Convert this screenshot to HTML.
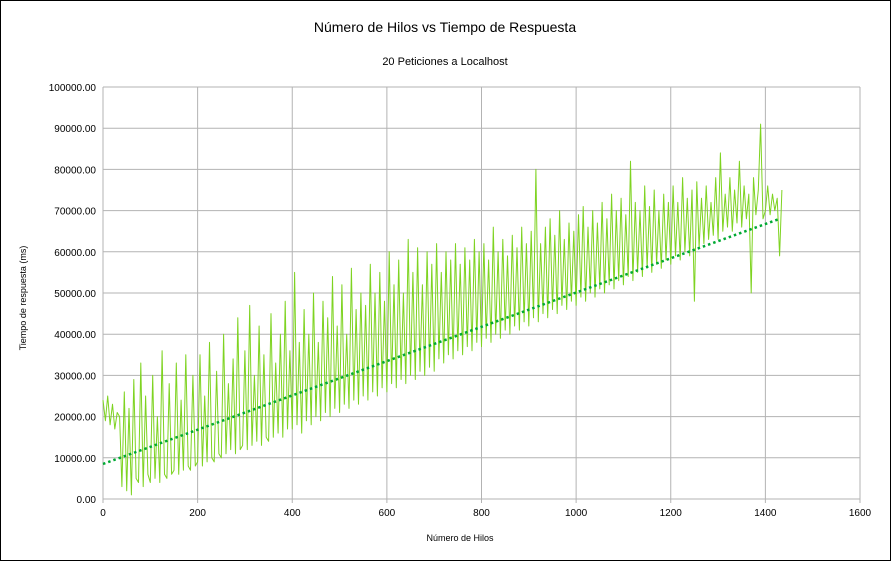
<!DOCTYPE html>
<html><head><meta charset="utf-8"><style>
body{margin:0;background:#fff;font-family:"Liberation Sans",sans-serif}
svg{display:block}
</style></head><body>
<svg id="chart" width="891" height="561" font-family="Liberation Sans, sans-serif">
<rect x="0.5" y="0.5" width="890" height="560" fill="#fff" stroke="#000"/>
<text x="445" y="32" text-anchor="middle" font-size="14">Número de Hilos vs Tiempo de Respuesta</text>
<text x="445" y="65" text-anchor="middle" font-size="11">20 Peticiones a Localhost</text>
<text x="460" y="541" text-anchor="middle" font-size="9">Número de Hilos</text>
<text transform="translate(26,298) rotate(-90)" text-anchor="middle" font-size="9">Tiempo de respuesta (ms)</text>
<g id="grid"></g><g id="series"></g><g id="trend"></g><g id="axes"></g>
</svg>
<script>
const hilos=[0,5,10,15,20,25,30,35,40,45,50,55,60,65,70,75,80,85,90,95,100,105,110,115,120,125,130,135,140,145,150,155,160,165,170,175,180,185,190,195,200,205,210,215,220,225,230,235,240,245,250,255,260,265,270,275,280,285,290,295,300,305,310,315,320,325,330,335,340,345,350,355,360,365,370,375,380,385,390,395,400,405,410,415,420,425,430,435,440,445,450,455,460,465,470,475,480,485,490,495,500,505,510,515,520,525,530,535,540,545,550,555,560,565,570,575,580,585,590,595,600,605,610,615,620,625,630,635,640,645,650,655,660,665,670,675,680,685,690,695,700,705,710,715,720,725,730,735,740,745,750,755,760,765,770,775,780,785,790,795,800,805,810,815,820,825,830,835,840,845,850,855,860,865,870,875,880,885,890,895,900,905,910,915,920,925,930,935,940,945,950,955,960,965,970,975,980,985,990,995,1000,1005,1010,1015,1020,1025,1030,1035,1040,1045,1050,1055,1060,1065,1070,1075,1080,1085,1090,1095,1100,1105,1110,1115,1120,1125,1130,1135,1140,1145,1150,1155,1160,1165,1170,1175,1180,1185,1190,1195,1200,1205,1210,1215,1220,1225,1230,1235,1240,1245,1250,1255,1260,1265,1270,1275,1280,1285,1290,1295,1300,1305,1310,1315,1320,1325,1330,1335,1340,1345,1350,1355,1360,1365,1370,1375,1380,1385,1390,1395,1400,1405,1410,1415,1420,1425,1430,1435];
const tiemposMiles=[24,19,25,18,23,17,21,20,3,26,
2,22,1,29,5,4,33,3,25,6,
4,30,5,20,4,36,6,5,28,6,
7,33,6,24,7,35,8,7,30,8,
9,35,8,25,9,38,10,9,31,11,
10,40,11,28,12,34,11,44,12,13,
36,12,47,13,30,14,42,13,35,15,
14,45,15,33,16,40,15,48,17,36,
17,55,18,38,16,46,19,40,18,50,
20,38,19,48,21,44,20,54,22,42,
21,52,23,40,22,56,24,46,23,50,
25,47,24,57,26,50,25,55,27,48,
26,60,28,52,27,58,29,50,28,63,
30,55,29,61,31,52,30,60,32,57,
31,62,34,55,33,60,35,58,34,62,
36,57,35,61,37,58,36,63,38,60,
37,62,39,58,38,66,40,60,39,63,
41,59,40,64,42,61,41,66,43,62,
42,65,44,80,43,62,45,66,44,68,
46,64,45,70,47,63,46,67,48,65,
47,69,49,71,48,66,50,70,49,67,
51,72,50,68,52,74,51,70,53,73,
52,69,54,82,53,72,55,70,54,76,
56,71,55,75,57,70,56,74,58,72,
57,76,59,72,58,78,60,73,59,75,
48,77,61,73,62,76,63,72,64,78,
63,84,65,74,66,78,65,75,67,82,
66,76,68,74,50,78,69,75,91,68,
70,76,69,74,70,73,59,75];
const trendX=[0,1430];
const trendY=[8500,68000];
const xTicks=[0,200,400,600,800,1000,1200,1400,1600];
const yTicks=[0,10000,20000,30000,40000,50000,60000,70000,80000,90000,100000];
const X0=103,X1=860,Y0=499,Y1=87;
const sx=v=>X0+(v/1600)*(X1-X0);
const sy=v=>Y0-(v/100000)*(Y0-Y1);
const NS="http://www.w3.org/2000/svg";
function mk(t,a,p){const e=document.createElementNS(NS,t);for(const k in a)e.setAttribute(k,a[k]);p.appendChild(e);return e;}
const grid=document.getElementById('grid'),axes=document.getElementById('axes');
yTicks.forEach(v=>{
 const l=mk('line',{x1:X0,x2:X1,y1:sy(v),y2:sy(v),stroke:'#b3b3b3','stroke-width':1},grid);
 
 
 const t=mk('text',{x:96,y:sy(v)+4,'text-anchor':'end','font-size':10},axes);
 t.textContent=v.toFixed(2);
 
 
});
xTicks.forEach(v=>{
 const l=mk('line',{x1:sx(v),x2:sx(v),y1:Y1,y2:Y0+4,stroke:'#b3b3b3','stroke-width':1},grid);
 
 
 const t=mk('text',{x:sx(v),y:516,'text-anchor':'middle','font-size':10},axes);
 t.textContent=v;
 
 
});
const pts=hilos.map((h,i)=>sx(h).toFixed(1)+','+sy(tiemposMiles[i]*1000).toFixed(1)).join(' ');
const pl=mk('polyline',{points:pts,fill:'none',stroke:'#7ed321','stroke-width':1,'stroke-linejoin':'round'},document.getElementById('series'));


const tl=mk('line',{x1:sx(trendX[0]),y1:sy(trendY[0]),x2:sx(trendX[1]),y2:sy(trendY[1]),stroke:'#00a933','stroke-width':2.5,'stroke-dasharray':'2.5,3'},document.getElementById('trend'));


</script>
</body></html>
